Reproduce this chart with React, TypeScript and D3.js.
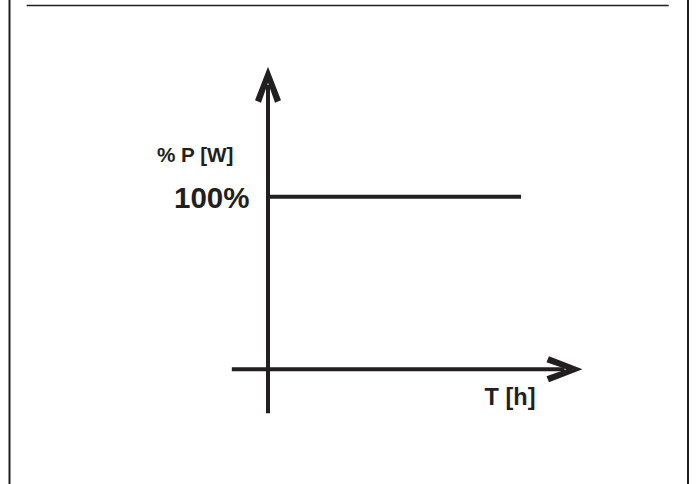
import React, { useEffect, useRef } from 'react';
import { select, scaleLinear, line } from 'd3';

const width = 697;
const height = 484;

// power stays at 100% over the whole time span
const timePoints = [0, 1];
const powerValues = [100, 100];
const tickLabels = ['100%'];
const tickValues = [100];
const yTitle = '% P [W]';
const xTitle = 'T [h]';
// axis extents in data units
const xExtent = [-0.143, 1.243];
const yExtent = [-25.5, 175.3];

const ink = '#231f20';

// chevron arrowhead, tip at (tx, ty), pointing along (dx, dy)
const arrowHead = (tx: number, ty: number, dx: number, dy: number) => {
  const px = -dy, py = dx;
  const pt = (a: number, p: number) => [tx - dx * a + px * p, ty - dy * a + py * p].join(',');
  return [
    pt(0, 0), pt(33.5, 13), pt(36, 7), pt(16, 0), pt(36, -7), pt(33.5, -13),
  ].join(' ');
};

const App = () => {
  const svgRef = useRef<SVGSVGElement>(null);

  useEffect(() => {
    const svg = select(svgRef.current);
    svg.selectAll('*').remove();

    const x = scaleLinear().domain([0, 1]).range([268, 521]);
    const y = scaleLinear().domain([0, 100]).range([369.3, 196.7]);

    // frame
    const frame = svg.append('g').attr('stroke', ink).attr('fill', 'none');
    frame.append('line')
      .attr('x1', 9.5).attr('x2', 9.5).attr('y1', 0).attr('y2', height)
      .attr('stroke-width', 2);
    frame.append('line')
      .attr('x1', 688).attr('x2', 688).attr('y1', 0).attr('y2', height)
      .attr('stroke-width', 2);
    frame.append('line')
      .attr('x1', 26.7).attr('x2', 668.7).attr('y1', 5.5).attr('y2', 5.5)
      .attr('stroke-width', 1.4);

    const axes = svg.append('g')
      .attr('stroke', ink)
      .attr('stroke-width', 4)
      .attr('fill', 'none');

    // vertical axis
    axes.append('line')
      .attr('x1', x(0)).attr('x2', x(0))
      .attr('y1', y(yExtent[0])).attr('y2', y(yExtent[1]) + 18);
    svg.append('polygon')
      .attr('points', arrowHead(x(0), y(yExtent[1]), 0, -1))
      .attr('fill', ink);

    // horizontal axis
    axes.append('line')
      .attr('x1', x(xExtent[0])).attr('x2', x(xExtent[1]) - 18)
      .attr('y1', y(0)).attr('y2', y(0));
    svg.append('polygon')
      .attr('points', arrowHead(x(xExtent[1]), y(0), 1, 0))
      .attr('fill', ink);

    // power line
    const data = timePoints.map((t, i) => ({ t, p: powerValues[i] }));
    const pathGen = line<{ t: number; p: number }>()
      .x(d => x(d.t))
      .y(d => y(d.p));
    axes.append('path').attr('d', pathGen(data));

    const labels = svg.append('g')
      .attr('fill', ink)
      .attr('font-family', '"Liberation Sans", Arial, sans-serif')
      .attr('font-weight', 'bold')
      .attr('text-anchor', 'end');

    labels.selectAll('text.tick')
      .data(tickValues)
      .join('text')
      .attr('class', 'tick')
      .attr('x', 249.5)
      .attr('y', d => y(d) + 11.6)
      .attr('font-size', 29.5)
      .text((d, i) => tickLabels[i]);

    labels.append('text')
      .attr('x', 233.5)
      .attr('y', 162.3)
      .attr('font-size', 20.7)
      .text(yTitle);

    labels.append('text')
      .attr('x', 535.5)
      .attr('y', 405.2)
      .attr('font-size', 23.5)
      .text(xTitle);
  }, []);

  return (
    <svg
      ref={svgRef}
      width={width}
      height={height}
      style={{ position: 'absolute', left: 0, top: 0, background: '#fff' }}
    />
  );
};

export default App;
